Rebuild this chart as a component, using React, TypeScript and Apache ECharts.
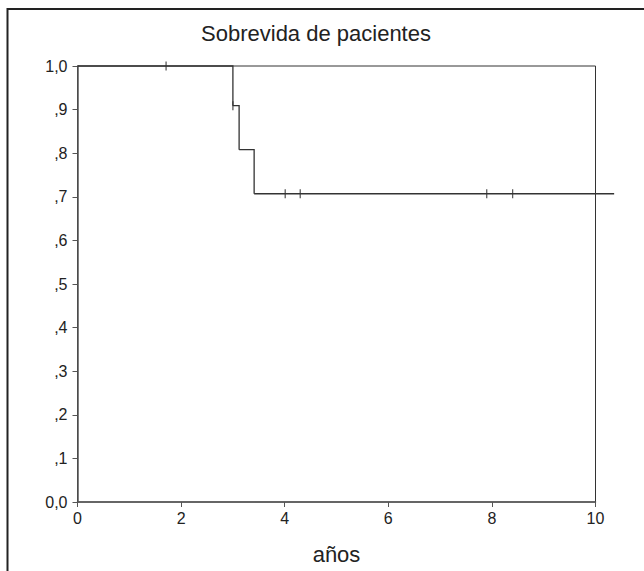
import React, { useEffect, useRef } from "react";
import * as echarts from "echarts";

const titleText = "Sobrevida de pacientes";
const xAxisName = "años";
const xTicks = [0, 2, 4, 6, 8, 10];
const yTickLabels = ["0,0", ",1", ",2", ",3", ",4", ",5", ",6", ",7", ",8", ",9", "1,0"];
// Kaplan-Meier step points: [years, survival]
const survivalSteps: [number, number][] = [
  [0, 1.0],
  [3.0, 0.909],
  [3.12, 0.808],
  [3.41, 0.707],
  [10.36, 0.707],
];
// censored observations
const censored: [number, number][] = [
  [1.71, 1.0],
  [3.0, 0.909],
  [4.01, 0.707],
  [4.3, 0.707],
  [7.9, 0.707],
  [8.4, 0.707],
];

const FONT = "'Liberation Sans', Arial, sans-serif";

export default function App() {
  const ref = useRef<HTMLDivElement>(null);
  useEffect(() => {
    if (!ref.current) return;
    const chart = echarts.init(ref.current, undefined, { renderer: "svg" });
    chart.setOption({
      animation: false,
      backgroundColor: "#fff",
      grid: {
        left: 77.5,
        top: 66,
        right: 644 - 595.5,
        bottom: 571 - 502,
        show: true,
        borderColor: "#333",
        borderWidth: 1,
        backgroundColor: "transparent",
      },
      xAxis: {
        type: "value",
        min: xTicks[0],
        max: xTicks[xTicks.length - 1],
        interval: 2,
        name: xAxisName,
        nameLocation: "middle",
        nameGap: 41,
        nameTextStyle: { fontFamily: FONT, fontSize: 22, color: "#222" },
        axisLine: { show: true, lineStyle: { color: "#555", width: 1.5 } },
        axisTick: { show: true, length: 5, lineStyle: { color: "#555" } },
        axisLabel: { fontFamily: FONT, fontSize: 16, color: "#222", margin: 8 },
        splitLine: { show: false },
      },
      yAxis: {
        type: "value",
        min: 0,
        max: 1,
        interval: 0.1,
        axisLine: { show: true, lineStyle: { color: "#555", width: 1.5 } },
        axisTick: { show: true, length: 5, lineStyle: { color: "#555" } },
        axisLabel: {
          fontFamily: FONT,
          fontSize: 16,
          color: "#222",
          margin: 10,
          formatter: (v: number) => yTickLabels[Math.round(v * 10)] ?? "",
        },
        splitLine: { show: false },
      },
      graphic: [
        {
          type: "polyline",
          shape: { points: [[7.5, 571], [7.5, 9], [644, 9]] },
          style: { stroke: "#222", lineWidth: 2, fill: "none" },
          silent: true,
        },
        {
          type: "text",
          x: 316,
          y: 33,
          style: {
            text: titleText,
            align: "center",
            verticalAlign: "middle",
            fontFamily: FONT,
            fontSize: 22,
            fill: "#222",
          },
          silent: true,
        },
      ],
      series: [
        {
          type: "custom",
          clip: false,
          data: survivalSteps.slice(0, -1).map((p, i) => [p[0], p[1], survivalSteps[i + 1][0], survivalSteps[i + 1][1]]),
          renderItem: (params: any, api: any) => {
            const a = api.coord([api.value(0), api.value(1)]);
            const b = api.coord([api.value(2), api.value(1)]);
            const c = api.coord([api.value(2), api.value(3)]);
            return {
              type: "polyline",
              shape: { points: [a, b, c] },
              style: { stroke: "#333", lineWidth: 1.3, fill: "none" },
            };
          },
        },
        {
          type: "scatter",
          data: censored,
          symbol: "rect",
          symbolSize: [1.3, 9],
          clip: false,
          itemStyle: { color: "#333" },
        },
      ],
    });
    return () => chart.dispose();
  }, []);
  return (
    <div
      ref={ref}
      style={{ position: "fixed", left: 0, top: 0, width: 644, height: 571 }}
    />
  );
}
